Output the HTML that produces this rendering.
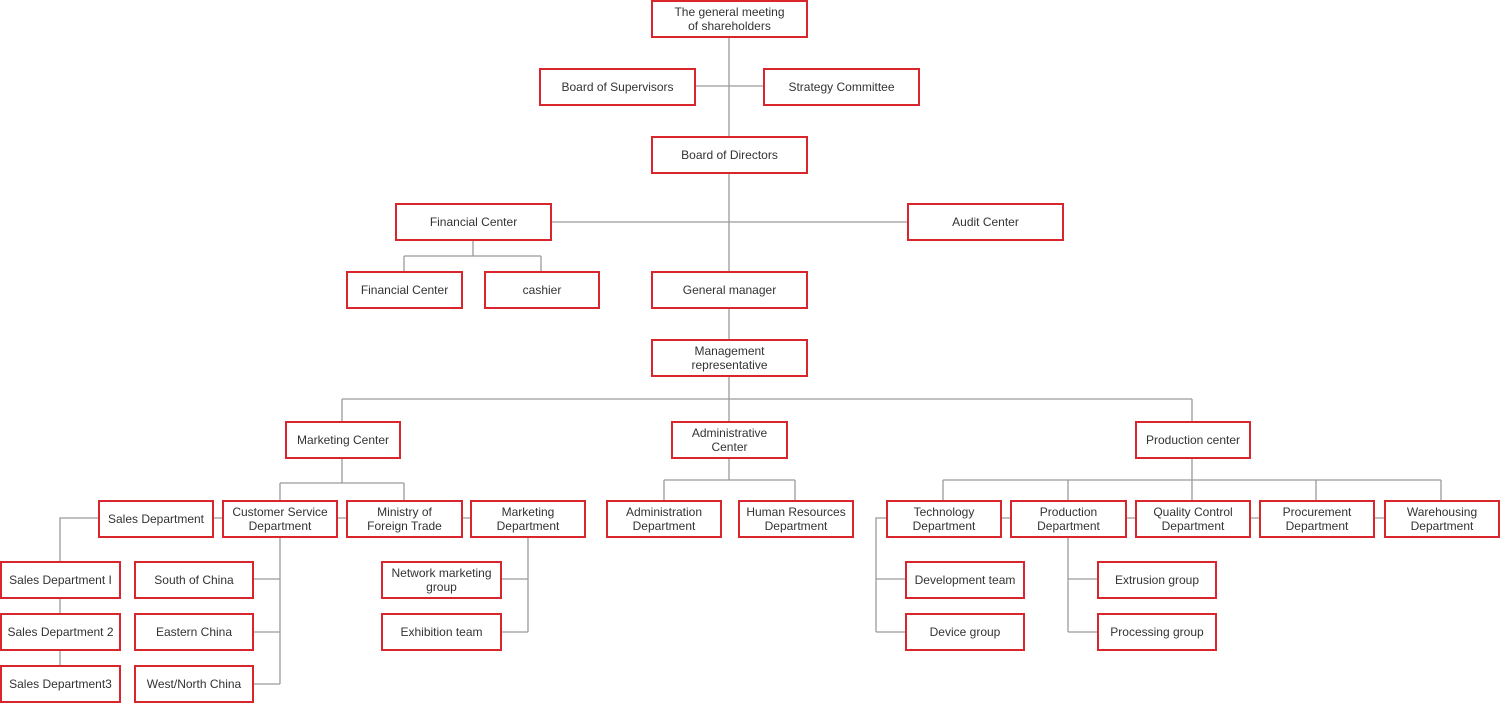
<!DOCTYPE html>
<html><head><meta charset="utf-8"><style>
body{margin:0;width:1500px;height:703px;background:#fff;position:relative;overflow:hidden;font-family:"Liberation Sans",Arial,sans-serif}
svg{position:absolute;left:0;top:0}
.b{position:absolute;box-sizing:border-box;border:2px solid #d8262c;background:#fff;display:flex;align-items:center;justify-content:center;text-align:center;font-size:12px;line-height:14px;color:#333}
</style></head><body>
<svg width="1500" height="703"><g stroke="#9a9a9a" stroke-width="1.3" fill="none">
<path d="M729 37V339M695 86H763M551 222H907M473 240V256M404 256H541M404 256V271M541 256V271"/>
<path d="M729 376V421M342 399H1192M342 399V421M1192 399V421"/>
<path d="M342 458V483M280 483H404M280 483V500M404 483V500M213 518H222M337 518H346M462 518H470"/>
<path d="M98 518H60V561M60 598V613M60 650V665"/>
<path d="M280 537V684M253 579H280M253 632H280M253 684H280"/>
<path d="M528 537V632M501 579H528M501 632H528"/>
<path d="M729 458V480M664 480H795M664 480V500M795 480V500"/>
<path d="M1192 458V500M943 480H1441M943 480V500M1068 480V500M1316 480V500M1441 480V500"/>
<path d="M1001 518H1010M1126 518H1135M1250 518H1259M1374 518H1384"/>
<path d="M886 518H876V632M876 579H905M876 632H905M1068 537V632M1068 579H1097M1068 632H1097"/>
</g></svg>
<div class="b" style="left:651px;top:0;width:157px;height:38px">The general meeting<br>of shareholders</div>
<div class="b" style="left:539px;top:68px;width:157px;height:38px">Board of Supervisors</div>
<div class="b" style="left:763px;top:68px;width:157px;height:38px">Strategy Committee</div>
<div class="b" style="left:651px;top:136px;width:157px;height:38px">Board of Directors</div>
<div class="b" style="left:395px;top:203px;width:157px;height:38px">Financial Center</div>
<div class="b" style="left:907px;top:203px;width:157px;height:38px">Audit Center</div>
<div class="b" style="left:346px;top:271px;width:117px;height:38px">Financial Center</div>
<div class="b" style="left:484px;top:271px;width:116px;height:38px">cashier</div>
<div class="b" style="left:651px;top:271px;width:157px;height:38px">General manager</div>
<div class="b" style="left:651px;top:339px;width:157px;height:38px">Management<br>representative</div>
<div class="b" style="left:285px;top:421px;width:116px;height:38px">Marketing Center</div>
<div class="b" style="left:671px;top:421px;width:117px;height:38px">Administrative<br>Center</div>
<div class="b" style="left:1135px;top:421px;width:116px;height:38px">Production center</div>
<div class="b" style="left:98px;top:500px;width:116px;height:38px">Sales Department</div>
<div class="b" style="left:222px;top:500px;width:116px;height:38px">Customer Service<br>Department</div>
<div class="b" style="left:346px;top:500px;width:117px;height:38px">Ministry of<br>Foreign Trade</div>
<div class="b" style="left:470px;top:500px;width:116px;height:38px">Marketing<br>Department</div>
<div class="b" style="left:0;top:561px;width:121px;height:38px">Sales Department I</div>
<div class="b" style="left:0;top:613px;width:121px;height:38px">Sales Department 2</div>
<div class="b" style="left:0;top:665px;width:121px;height:38px">Sales Department3</div>
<div class="b" style="left:134px;top:561px;width:120px;height:38px">South of China</div>
<div class="b" style="left:134px;top:613px;width:120px;height:38px">Eastern China</div>
<div class="b" style="left:134px;top:665px;width:120px;height:38px">West/North China</div>
<div class="b" style="left:381px;top:561px;width:121px;height:38px">Network marketing<br>group</div>
<div class="b" style="left:381px;top:613px;width:121px;height:38px">Exhibition team</div>
<div class="b" style="left:606px;top:500px;width:116px;height:38px">Administration<br>Department</div>
<div class="b" style="left:738px;top:500px;width:116px;height:38px">Human Resources<br>Department</div>
<div class="b" style="left:886px;top:500px;width:116px;height:38px">Technology<br>Department</div>
<div class="b" style="left:1010px;top:500px;width:117px;height:38px">Production<br>Department</div>
<div class="b" style="left:1135px;top:500px;width:116px;height:38px">Quality Control<br>Department</div>
<div class="b" style="left:1259px;top:500px;width:116px;height:38px">Procurement<br>Department</div>
<div class="b" style="left:1384px;top:500px;width:116px;height:38px">Warehousing<br>Department</div>
<div class="b" style="left:905px;top:561px;width:120px;height:38px">Development team</div>
<div class="b" style="left:905px;top:613px;width:120px;height:38px">Device group</div>
<div class="b" style="left:1097px;top:561px;width:120px;height:38px">Extrusion group</div>
<div class="b" style="left:1097px;top:613px;width:120px;height:38px">Processing group</div>
</body></html>
